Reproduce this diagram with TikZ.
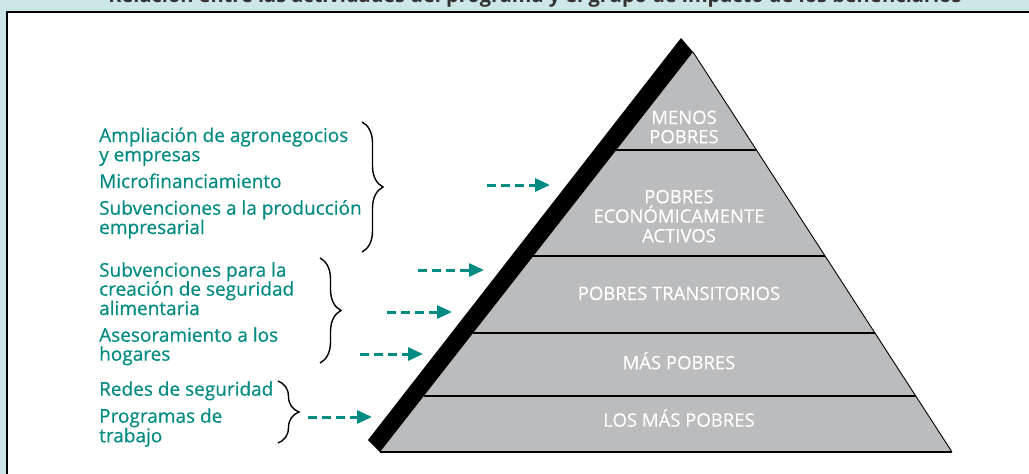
\documentclass[tikz,border=0pt]{standalone}
\usepackage{fontspec}
\setmainfont{Open Sans}
\newfontfamily\labelfont[FakeBold=0.3]{Open Sans}
\usetikzlibrary{arrows.meta,decorations.pathreplacing,calc}
\definecolor{bgteal}{RGB}{205,230,230}
\definecolor{tealtxt}{RGB}{0,138,130}
\definecolor{pyrgray}{RGB}{187,188,190}
\begin{document}
\begin{tikzpicture}[x=1pt,y=-1pt,
  lefttxt/.style={anchor=base west, inner sep=0pt, text=tealtxt, font=\labelfont\fontsize{19}{22}\selectfont},
  lvl/.style={anchor=base, inner sep=0pt, text=white, font=\labelfont\fontsize{18.5}{22}\selectfont},
  dasharrow/.style={draw=tealtxt, line width=3pt, dash pattern=on 9pt off 5pt, -{Triangle[length=15pt,width=13pt]}},
  bracestyle/.style={draw=black, line width=1.4pt, decorate, decoration={brace, amplitude=21pt}},
  divider/.style={draw=black, line width=1.8pt}
]
\path[use as bounding box] (0,0) rectangle (1029,474);
\fill[bgteal] (0,0) rectangle (1029,474);
\begin{scope}
\clip (0,0) rectangle (1029,11);
\node[anchor=base, inner sep=0pt, font=\bfseries\fontsize{20}{24}\selectfont, text=black!80] (title) at (535,2.5) {Relación entre las actividades del programa y el grupo de impacto de los beneficiarios};
\end{scope}
\fill[white] (7,12) rectangle (1029,474);
\draw[line width=1.5pt] (1029,12) -- (7,12) -- (7,474);

% pyramid
\coordinate (apex) at (693,52);
\coordinate (bl) at (380,452);
\coordinate (br) at (952,452);
\fill[pyrgray] (apex) -- (bl) -- (br) -- cycle;
\draw[line width=0.9pt] (apex) -- (br);
\draw[line width=1.5pt] (bl) -- (br);
\foreach \f in {0.245,0.51,0.7025,0.86}
  \draw[divider] ($(apex)!\f!(bl)$) -- ($(apex)!\f!(br)$);
\coordinate (bandtop) at (681,38);
\coordinate (bandbot) at (368,440);
\fill[black] (apex) -- (bandtop) -- (bandbot) -- (bl) -- cycle;

% level labels
\node[lvl] (l1a) at (684,124) {MENOS};
\node[lvl] (l1b) at (684,143.3) {POBRES};
\node[lvl] (l2a) at (679,203.3) {POBRES};
\node[lvl] (l2b) at (679,222.7) {ECONÓMICAMENTE};
\node[lvl] (l2c) at (679,242.3) {ACTIVOS};
\node[lvl] (l3) at (679,300) {POBRES TRANSITORIOS};
\node[lvl] (l4) at (679,369.3) {MÁS POBRES};
\node[lvl] (l5) at (679,426.7) {LOS MÁS POBRES};

% left texts
\node[lefttxt] (t1a) at (99,142) {Ampliación de agronegocios};
\node[lefttxt] (t1b) at (99,161.3) {y empresas};
\node[lefttxt] (t2) at (99,188) {Microfinanciamiento};
\node[lefttxt] (t3a) at (99,214.7) {Subvenciones a la producción};
\node[lefttxt] (t3b) at (99,234) {empresarial};
\node[lefttxt] (t4a) at (99,276.7) {Subvenciones para la};
\node[lefttxt] (t4b) at (99,295.7) {creación de seguridad};
\node[lefttxt] (t4c) at (99,315) {alimentaria};
\node[lefttxt] (t5a) at (99,341.7) {Asesoramiento a los};
\node[lefttxt] (t5b) at (99,360.7) {hogares};
\node[lefttxt] (t6) at (99,395.7) {Redes de seguridad};
\node[lefttxt] (t7a) at (99,422.7) {Programas de};
\node[lefttxt] (t7b) at (99,442.3) {trabajo};

% braces
\coordinate (b1t) at (362,122); \coordinate (b1b) at (362,252);
\coordinate (b2t) at (320,258); \coordinate (b2b) at (320,363);
\coordinate (b3t) at (278,381); \coordinate (b3b) at (278,443);
\draw[bracestyle] (b1t) -- (b1b);
\draw[bracestyle] (b2t) -- (b2b);
\draw[bracestyle] (b3t) -- (b3b);

% arrows
\coordinate (a1s) at (487,185); \coordinate (a1e) at (550,185);
\coordinate (a2s) at (418,270); \coordinate (a2e) at (484,270);
\coordinate (a3s) at (387,312); \coordinate (a3e) at (452,312);
\coordinate (a4s) at (360,354); \coordinate (a4e) at (423,354);
\coordinate (a5s) at (308,417); \coordinate (a5e) at (372,417);
\draw[dasharrow] (a1s) -- (a1e);
\draw[dasharrow] (a2s) -- (a2e);
\draw[dasharrow] (a3s) -- (a3e);
\draw[dasharrow] (a4s) -- (a4e);
\draw[dasharrow] (a5s) -- (a5e);
\end{tikzpicture}
\end{document}
